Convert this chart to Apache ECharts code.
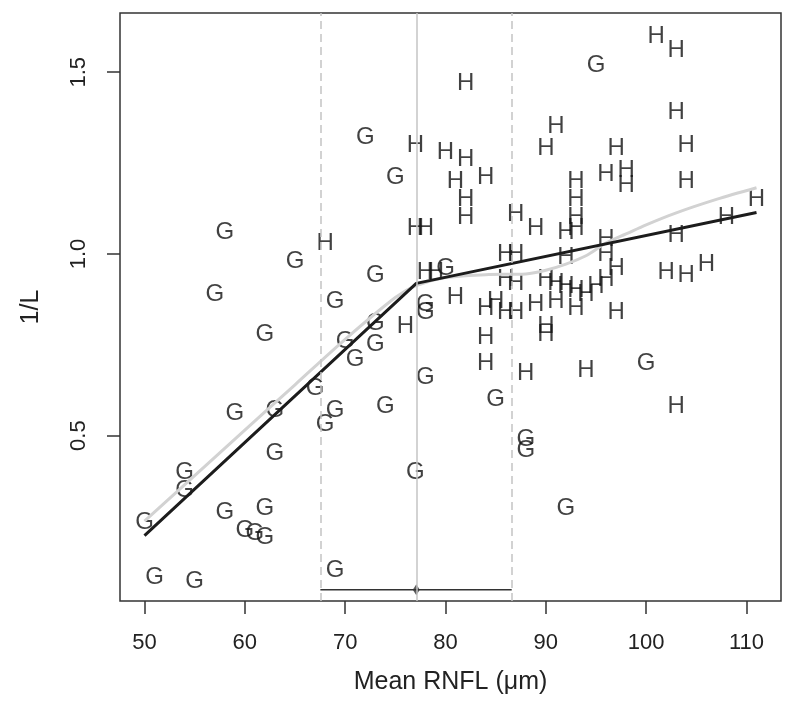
<!DOCTYPE html>
<html>
<head>
<meta charset="utf-8">
<script src="https://cdn.jsdelivr.net/npm/echarts@6/dist/echarts.min.js"></script>
<style>
html,body{margin:0;padding:0;background:#fff;}
#chart{width:795px;height:709px;}
</style>
</head>
<body>
<div id="chart"></div>
<script>
// ---- data ----
const xTicks = [50, 60, 70, 80, 90, 100, 110];
const yTicks = [0.5, 1.0, 1.5];

const gPoints = [
  [72,1.32],[75,1.21],[58,1.06],[65,0.98],[57,0.89],[73,0.94],[69,0.87],[80,0.96],
  [78,0.86],[78,0.84],[73,0.81],[62,0.78],[70,0.76],[73,0.75],[71,0.71],[78,0.66],
  [67,0.63],[63,0.57],[59,0.56],[69,0.57],[68,0.53],[74,0.58],[63,0.45],[77,0.40],
  [54,0.40],[54,0.35],[50,0.26],[58,0.29],[62,0.30],[60,0.24],[61,0.23],[62,0.22],
  [51,0.11],[55,0.10],[69,0.13],[95,1.52],[100,0.70],[85,0.60],[88,0.49],[88,0.46],
  [92,0.30]
];

const hPoints = [
  [77,1.30],[80,1.28],[68,1.03],[77,1.07],[78,1.07],[78,0.95],[79,0.95],[76,0.80],
  [82,1.47],[101,1.60],[103,1.56],[103,1.39],[104,1.30],[104,1.20],[91,1.35],[90,1.29],
  [97,1.29],[96,1.22],[98,1.23],[98,1.19],[93,1.20],[93,1.15],[93,1.10],[92,1.06],
  [93,1.07],[82,1.26],[81,1.20],[84,1.21],[82,1.15],[82,1.10],[87,1.11],[89,1.07],
  [111,1.15],[108,1.10],[103,1.05],[106,0.97],[102,0.95],[104,0.94],[81,0.88],[86,1.00],
  [87,1.00],[86,0.93],[87,0.92],[92,0.99],[90,0.93],[91,0.92],[92,0.91],[93,0.90],
  [94,0.89],[95,0.91],[96,0.93],[96,1.04],[96,1.00],[97,0.96],[85,0.87],[84,0.85],
  [86,0.84],[87,0.84],[89,0.86],[91,0.87],[93,0.85],[97,0.84],[90,0.80],[90,0.78],
  [84,0.77],[84,0.70],[88,0.67],[94,0.68],[103,0.58]
];

const fitLine = [[50,0.225],[77.09,0.919],[111,1.114]];
const loessLine = [
  [50,0.265],[55,0.39],[60,0.515],[65,0.64],[70,0.765],[75,0.88],[77,0.912],[80,0.935],
  [84,0.943],[88,0.945],[90,0.955],[92,0.972],[94,0.995],[96,1.03],[98,1.055],[100,1.08],
  [103,1.113],[107,1.15],[111,1.182]
];
const breakPoint = 77.09;
const ciLow = 67.53;
const ciHigh = 86.6;
const ciY = 0.076;

// ---- chart ----
const FONT = 'Liberation Sans, Arial, Helvetica, sans-serif';
const chart = echarts.init(document.getElementById('chart'), null, {renderer:'canvas'});

function letterSeries(name, pts, letter){
  return {
    name: name, type: 'scatter', data: pts, symbol: 'circle', symbolSize: 1,
    itemStyle: {color: 'rgba(0,0,0,0)'},
    label: {show: true, position: 'inside', formatter: letter, fontSize: 24,
            fontFamily: FONT, color: '#111'},
    z: 2, silent: true
  };
}

chart.setOption({
  animation: false,
  backgroundColor: '#ffffff',
  grid: {left: 120, right: 14, top: 13, bottom: 108, show: true,
         borderColor: '#333', borderWidth: 1.5, containLabel: false},
  xAxis: {
    type: 'value', min: 47.56, max: 113.44,
    name: 'Mean RNFL (μm)', nameLocation: 'middle', nameGap: 69,
    nameTextStyle: {fontSize: 25, fontFamily: FONT, color: '#222'},
    axisLine: {show: false},
    splitLine: {show: false},
    axisTick: {show: true, length: 13, customValues: xTicks,
               lineStyle: {color: '#333', width: 1.5}},
    axisLabel: {show: true, customValues: xTicks, margin: 31, fontSize: 22,
                fontFamily: FONT, color: '#222'}
  },
  yAxis: {
    type: 'value', min: 0.045, max: 1.663,
    name: '1/L', nameLocation: 'middle', nameGap: 76, nameRotate: 90,
    nameTextStyle: {fontSize: 25, fontFamily: FONT, color: '#222'},
    axisLine: {show: false},
    splitLine: {show: false},
    axisTick: {show: true, length: 13, customValues: yTicks,
               lineStyle: {color: '#333', width: 1.5}},
    axisLabel: {show: true, customValues: yTicks, rotate: 90, margin: 30, fontSize: 22,
                fontFamily: FONT, color: '#222',
                formatter: v => Number(v).toFixed(1)}
  },
  series: [
    {
      type: 'line', data: [], silent: true,
      markLine: {
        silent: true, symbol: 'none', label: {show: false},
        data: [
          {xAxis: ciLow, lineStyle: {color: '#c4c4c4', type: [8, 5], width: 1.5}},
          {xAxis: ciHigh, lineStyle: {color: '#c4c4c4', type: [8, 5], width: 1.5}},
          {xAxis: breakPoint, lineStyle: {color: '#c4c4c4', type: 'solid', width: 1.5}}
        ]
      },
      z: 1
    },
    {
      type: 'line', data: [[ciLow, ciY],[ciHigh, ciY]], showSymbol: false, silent: true,
      lineStyle: {color: '#333', width: 1.5}, z: 3
    },
    {
      type: 'scatter', data: [[breakPoint, ciY]], symbol: 'diamond', symbolSize: [7, 11],
      itemStyle: {color: '#333'}, silent: true, z: 4
    },
    {
      type: 'line', data: loessLine, smooth: 0.3, showSymbol: false, silent: true,
      lineStyle: {color: '#d2d2d2', width: 3}, z: 3
    },
    {
      type: 'line', data: fitLine, showSymbol: false, silent: true,
      lineStyle: {color: '#1c1c1c', width: 3}, z: 4
    },
    letterSeries('G', gPoints, 'G'),
    letterSeries('H', hPoints, 'H')
  ]
});
</script>
</body>
</html>
